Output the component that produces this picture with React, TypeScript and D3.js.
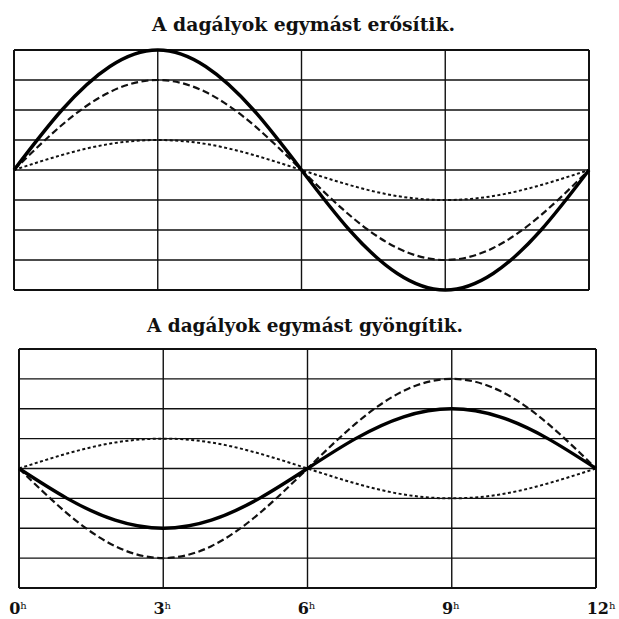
import React, { useEffect, useRef } from 'react';
import * as d3 from 'd3';

// hours along the x axis (one sample per hour)
const hours = [0, 1, 2, 3, 4, 5, 6, 7, 8, 9, 10, 11, 12];

// upper diagram: the tides reinforce each other (values in grid rows)
const upperSolid = [0, 2.0, 3.45, 4.0, 3.45, 2.0, 0, -2.0, -3.45, -4.0, -3.45, -2.0, 0];
const upperDashed = [0, 1.5, 2.6, 3.0, 2.6, 1.5, 0, -1.5, -2.6, -3.0, -2.6, -1.5, 0];
const upperDotted = [0, 0.5, 0.87, 1.0, 0.87, 0.5, 0, -0.5, -0.87, -1.0, -0.87, -0.5, 0];

// lower diagram: the tides weaken each other
const lowerSolid = [0, -1.0, -1.73, -2.0, -1.73, -1.0, 0, 1.0, 1.73, 2.0, 1.73, 1.0, 0];
const lowerDashed = [0, -1.5, -2.6, -3.0, -2.6, -1.5, 0, 1.5, 2.6, 3.0, 2.6, 1.5, 0];
const lowerDotted = [0, 0.5, 0.87, 1.0, 0.87, 0.5, 0, -0.5, -0.87, -1.0, -0.87, -0.5, 0];

const tickHours = [0, 3, 6, 9, 12];
const tickLabels = ['0', '3', '6', '9', '12'];
const gridRows = [-4, -3, -2, -1, 0, 1, 2, 3, 4];

const upperTitle = 'A dagályok egymást erősítik.';
const lowerTitle = 'A dagályok egymást gyöngítik.';

interface Panel {
  title: string;
  titleX: number;
  titleY: number;
  titleWidth: number;
  left: number;
  right: number;
  top: number;
  bottom: number;
  solid: number[];
  dashed: number[];
  dotted: number[];
}

const App: React.FC = () => {
  const svgRef = useRef<SVGSVGElement>(null);

  useEffect(() => {
    if (!svgRef.current) return;
    const svg = d3.select(svgRef.current);
    svg.selectAll('*').remove();

    svg.append('rect')
      .attr('width', 619)
      .attr('height', 619)
      .attr('fill', '#fff');

    const panels: Panel[] = [
      {
        title: upperTitle, titleX: 303.5, titleY: 31, titleWidth: 303,
        left: 14, right: 589, top: 50, bottom: 290,
        solid: upperSolid, dashed: upperDashed, dotted: upperDotted,
      },
      {
        title: lowerTitle, titleX: 305, titleY: 332, titleWidth: 316,
        left: 19, right: 596, top: 349, bottom: 588,
        solid: lowerSolid, dashed: lowerDashed, dotted: lowerDotted,
      },
    ];

    let lastX: d3.ScaleLinear<number, number> | null = null;

    panels.forEach(p => {
      const x = d3.scaleLinear().domain([0, 12]).range([p.left, p.right]);
      const y = d3.scaleLinear().domain([-4, 4]).range([p.bottom, p.top]);
      lastX = x;
      const g = svg.append('g');

      // title
      g.append('text')
        .attr('x', p.titleX)
        .attr('y', p.titleY)
        .attr('text-anchor', 'middle')
        .attr('font-family', '"DejaVu Serif", serif')
        .attr('font-weight', 'bold')
        .attr('font-size', 19)
        .attr('textLength', p.titleWidth)
        .attr('lengthAdjust', 'spacingAndGlyphs')
        .attr('fill', '#111')
        .text(p.title);

      // horizontal grid lines
      gridRows.forEach(r => {
        g.append('line')
          .attr('x1', x(0))
          .attr('x2', x(12))
          .attr('y1', y(r))
          .attr('y2', y(r))
          .attr('stroke', '#111')
          .attr('stroke-width', Math.abs(r) === 4 ? 2 : 1.4);
      });

      // vertical hour lines
      tickHours.forEach(h => {
        g.append('line')
          .attr('x1', x(h))
          .attr('x2', x(h))
          .attr('y1', y(4))
          .attr('y2', y(-4))
          .attr('stroke', '#111')
          .attr('stroke-width', h === 0 || h === 12 ? 2 : 1.4);
      });

      const line = (vals: number[]) => d3.line<number>()
        .x((_, i) => x(hours[i]))
        .y(d => y(d))
        .curve(d3.curveNatural)(vals);

      g.append('path')
        .attr('d', line(p.dotted))
        .attr('fill', 'none')
        .attr('stroke', '#111')
        .attr('stroke-width', 2)
        .attr('stroke-dasharray', '3,2.5');

      g.append('path')
        .attr('d', line(p.dashed))
        .attr('fill', 'none')
        .attr('stroke', '#111')
        .attr('stroke-width', 2.2)
        .attr('stroke-dasharray', '7,3.5');

      g.append('path')
        .attr('d', line(p.solid))
        .attr('fill', 'none')
        .attr('stroke', '#000')
        .attr('stroke-width', 3.4);
    });

    // hour labels under the lower diagram
    const x = lastX!;
    tickHours.forEach((h, i) => {
      const t = svg.append('text')
        .attr('x', x(h) + (h === 12 ? 5 : -1))
        .attr('y', 614)
        .attr('text-anchor', 'middle')
        .attr('font-family', '"DejaVu Serif", serif')
        .attr('font-weight', 'bold')
        .attr('font-size', 16)
        .attr('fill', '#111');
      t.append('tspan').text(tickLabels[i]);
      t.append('tspan')
        .attr('font-size', 10)
        .attr('font-weight', 'normal')
        .attr('dy', -5)
        .text('h');
    });
  }, []);

  return (
    <svg
      ref={svgRef}
      width={619}
      height={619}
      style={{ position: 'absolute', left: 0, top: 0 }}
    />
  );
};

export default App;
